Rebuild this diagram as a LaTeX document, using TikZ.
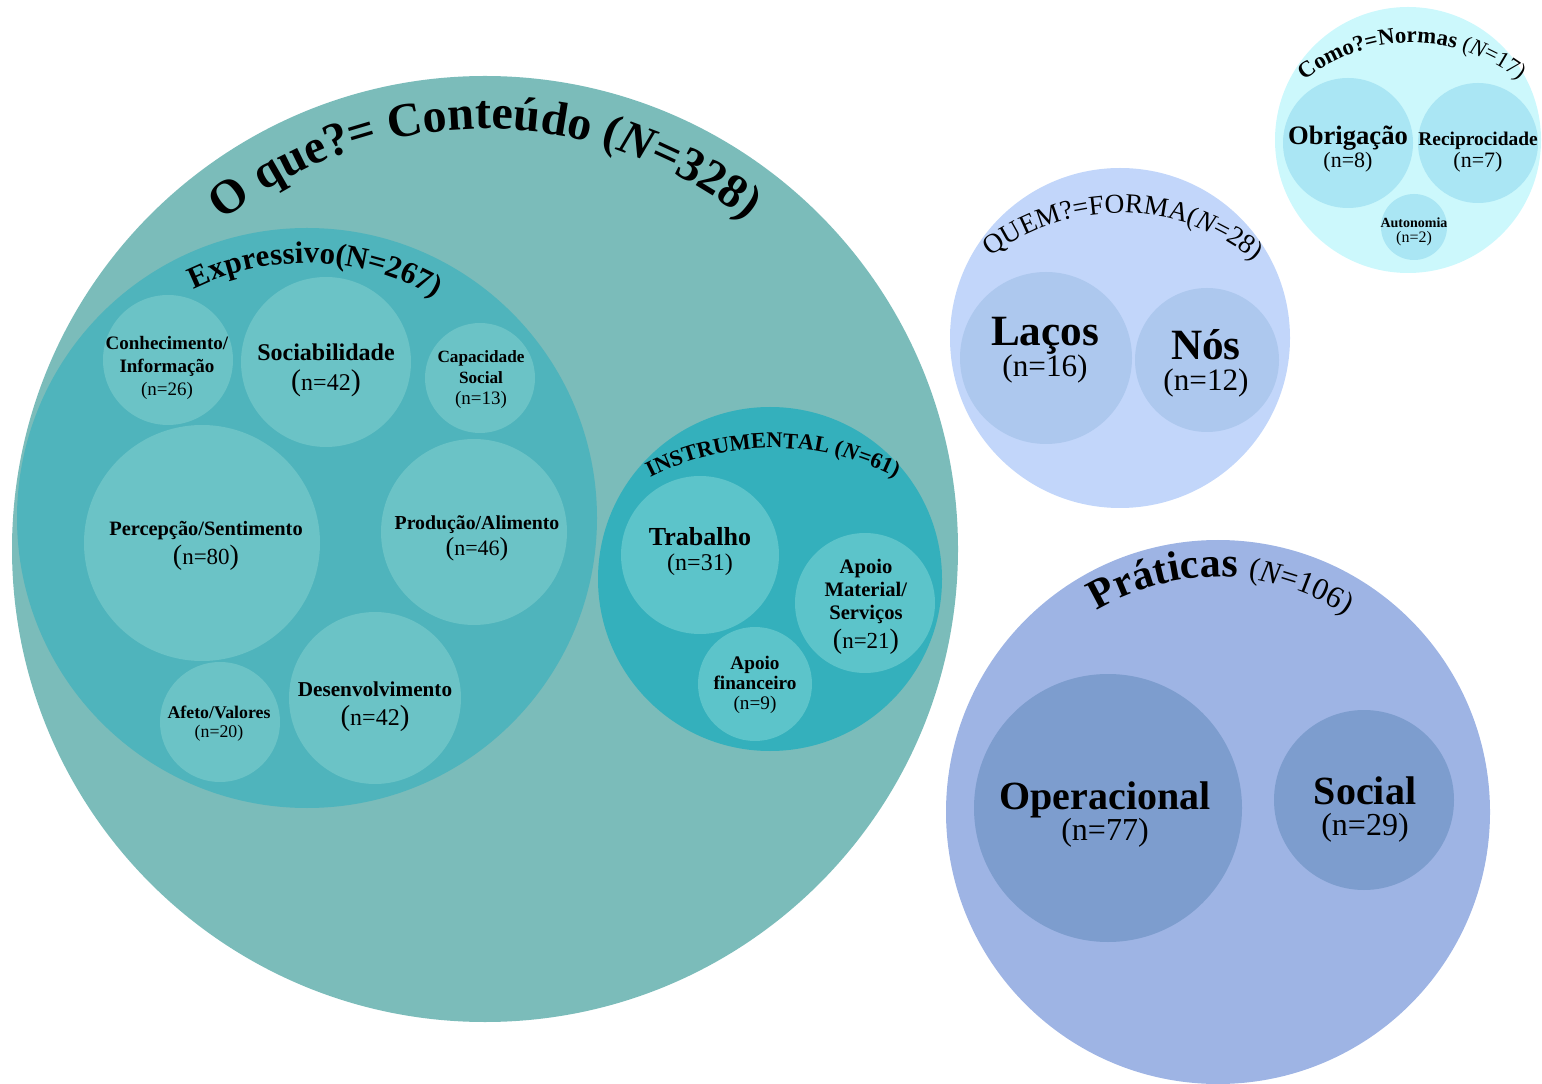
\documentclass[tikz,border=0pt]{standalone}
\usepackage{fontspec}
\setmainfont{Liberation Serif}
\usetikzlibrary{decorations.text}
\definecolor{bigC}{HTML}{7BBCBA}
\definecolor{exprC}{HTML}{4FB4BC}
\definecolor{exprIn}{HTML}{6BC3C6}
\definecolor{instrC}{HTML}{34B0BC}
\definecolor{instrIn}{HTML}{5CC4CA}
\definecolor{quemC}{HTML}{C2D6FA}
\definecolor{quemIn}{HTML}{ADC8EE}
\definecolor{comoC}{HTML}{CCF8FC}
\definecolor{comoIn}{HTML}{AAE6F4}
\definecolor{pratC}{HTML}{9EB4E4}
\definecolor{pratIn}{HTML}{7D9DCE}
\newcommand\fz[2]{\fontsize{#1}{#2}\selectfont}
\newcommand\bigT{\bfseries\fontsize{24}{24}\selectfont}
\newcommand\bigI{\bfseries\itshape\fontsize{24}{24}\selectfont}
\newcommand\exT{\bfseries\fontsize{15.5}{16}\selectfont}
\newcommand\inT{\bfseries\fontsize{11.2}{12}\selectfont}
\newcommand\inI{\bfseries\itshape\fontsize{11.2}{12}\selectfont}
\newcommand\quT{\fontsize{13.7}{14}\selectfont}
\newcommand\quI{\itshape\fontsize{13.7}{14}\selectfont}
\newcommand\coT{\bfseries\fontsize{11.4}{12}\selectfont}
\newcommand\coR{\fontsize{11.4}{12}\selectfont}
\newcommand\coI{\itshape\fontsize{11.4}{12}\selectfont}
\newcommand\prT{\bfseries\fontsize{21}{21}\selectfont}
\newcommand\prR{\fontsize{15.5}{16}\selectfont}
\newcommand\prI{\itshape\fontsize{15.5}{16}\selectfont}
\tikzset{
  bub/.style={circle, inner sep=0pt, draw=none},
  lab/.style={align=center, inner sep=0pt, text=black},
  arctext/.style={decorate, decoration={text along path, text align=center, text={#1}}}
}
\begin{document}
\lineskiplimit=-100pt
\begin{tikzpicture}[x=0.5pt,y=0.5pt]
\useasboundingbox (0,0) rectangle (1542,1083);
% O que? = Conteudo
\node[bub, fill=bigC, minimum size=473pt] (big) at (485,534) {};
\node[bub, fill=exprC, minimum size=290pt] (expr) at (307,565) {};
\node[bub, fill=exprIn, minimum size=65pt] (conh) at (168,723) {};
\node[bub, fill=exprIn, minimum size=85pt] (soci) at (326,721) {};
\node[bub, fill=exprIn, minimum size=55pt] (capa) at (480,705) {};
\node[bub, fill=exprIn, minimum size=118pt] (perc) at (202,540) {};
\node[bub, fill=exprIn, minimum size=93pt] (prod) at (474,551) {};
\node[bub, fill=exprIn, minimum size=86pt] (dese) at (375,385) {};
\node[bub, fill=exprIn, minimum size=60pt] (afet) at (220,361) {};
\node[bub, fill=instrC, minimum size=172pt] (instr) at (770,504) {};
\node[bub, fill=instrIn, minimum size=79pt] (trab) at (700,528) {};
\node[bub, fill=instrIn, minimum size=70pt] (apoM) at (865,480) {};
\node[bub, fill=instrIn, minimum size=57pt] (apoF) at (755,399) {};
% Quem
\node[bub, fill=quemC, minimum size=170pt] (quem) at (1120,745) {};
\node[bub, fill=quemIn, minimum size=86pt] (laco) at (1046,725) {};
\node[bub, fill=quemIn, minimum size=72pt] (nos) at (1207,723) {};
% Como
\node[bub, fill=comoC, minimum size=133pt] (como) at (1408,943) {};
\node[bub, fill=comoIn, minimum size=65pt] (obri) at (1348,940) {};
\node[bub, fill=comoIn, minimum size=60pt] (reci) at (1478,940) {};
\node[bub, fill=comoIn, minimum size=33pt] (auto) at (1414,856) {};
% Praticas
\node[bub, fill=pratC, minimum size=272pt] (prat) at (1218,271) {};
\node[bub, fill=pratIn, minimum size=134pt] (oper) at (1108,275) {};
\node[bub, fill=pratIn, minimum size=90pt] (soc) at (1364,283) {};

% curved titles
\path[arctext={|\bigT|O que?= Conteúdo (|\bigI|N|\bigT|=328)}] (485,534) ++(150:420) arc[start angle=150, end angle=30, radius=420];
\path[arctext={|\exT|Expressivo(N=267)}] (307,565) ++(148:255) arc[start angle=148, end angle=28, radius=255];
\path[arctext={|\inT|INSTRUMENTAL (|\inI|N|\inT|=61)}] (773,364) ++(150:271) arc[start angle=150, end angle=30, radius=271];
\path[arctext={|\quT|QUEM?=FORMA(|\quI|N|\quT|=28)}] (1120,657) ++(149:213) arc[start angle=149, end angle=29, radius=213];
\path[arctext={|\coT|Como?=Normas |\coR|(|\coI|N|\coR|=17)}] (1412,868) ++(150:172) arc[start angle=150, end angle=30, radius=172];
\path[arctext={|\prT|Práticas |\prR|(|\prI|N|\prR|=106)}] (1218,271) ++(149:235) arc[start angle=149, end angle=29, radius=235];

% labels
\node[lab, font=\fz{9.5}{11.5}] (conhL) at (167,715) {\textbf{Conhecimento/}\\\textbf{Informação}\\(n=26)};
\node[lab, font=\fz{12}{15}] (sociL) at (326,713) {\textbf{Sociabilidade}\\\fz{15}{15}(\fz{12}{15}n=42\fz{15}{15})};
\node[lab, font=\fz{8.6}{10.5}] (capaL) at (481,703) {\textbf{Capacidade}\\\textbf{Social}\\\fz{9.5}{10.5}(n=13)};
\node[lab, font=\fz{10.2}{14.5}] (percL) at (206,537) {\textbf{Percepção/Sentimento}\\\fz{14}{14.5}(\fz{11.5}{14.5}n=80\fz{14}{14.5})};
\node[lab, font=\fz{9.9}{13}] (prodL) at (477,544.5) {\textbf{Produção/Alimento}\\\fz{13}{13}(\fz{11}{13}n=46\fz{13}{13})};
\node[lab, font=\fz{10.6}{14.5}] (deseL) at (375,376) {\textbf{Desenvolvimento}\\\fz{14.5}{14.5}(\fz{12}{14.5}n=42\fz{14.5}{14.5})};
\node[lab, font=\fz{8.9}{9.5}] (afetL) at (219,359.5) {\textbf{Afeto/Valores}\\(n=20)};
\node[lab, font=\fz{13}{12.5}] (trabL) at (700,531) {\textbf{Trabalho}\\\fz{12}{12.5}(n=31)};
\node[lab, font=\fz{10.3}{11.5}] (apoML) at (866,476) {\textbf{Apoio}\\\textbf{Material/}\\\textbf{Serviços}\\[3pt]\fz{14}{11.5}(\fz{11.5}{11.5}n=21\fz{14}{11.5})};
\node[lab, font=\fz{9.6}{10}] (apoFL) at (755,398) {\textbf{Apoio}\\\textbf{financeiro}\\(n=9)};
\node[lab, font=\fz{21.6}{15.5}] (lacoL) at (1045,733) {\textbf{Laços}\\\fz{15.6}{15.5}(n=16)};
\node[lab, font=\fz{21.6}{15.5}] (nosL) at (1206,719.5) {\textbf{Nós}\\\fz{15.6}{15.5}(n=12)};
\node[lab, font=\fz{13.3}{11.5}] (obriL) at (1348,933.5) {\textbf{Obrigação}\\\fz{11}{11.5}(n=8)};
\node[lab, font=\fz{9.7}{11}] (reciL) at (1478,931) {\textbf{Reciprocidade}\\\fz{11}{11}(n=7)};
\node[lab, font=\fz{7}{7.5}] (autoL) at (1414,851.5) {\textbf{Autonomia}\\\fz{8}{7.5}(n=2)};
\node[lab, font=\fz{20}{15.8}] (operL) at (1105,268.5) {\textbf{Operacional}\\\fz{16}{15.8}(n=77)};
\node[lab, font=\fz{20}{15.8}] (socL) at (1365,273.5) {\textbf{Social}\\\fz{16}{15.8}(n=29)};
\end{tikzpicture}
\end{document}
